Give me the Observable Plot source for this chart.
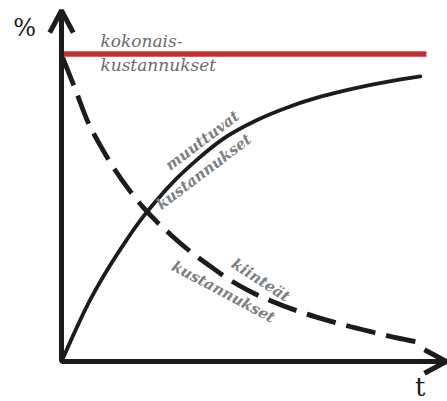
<!DOCTYPE html>
<html>
<head>
<meta charset="utf-8">
<script src="https://cdn.jsdelivr.net/npm/d3@7"></script>
<script src="https://cdn.jsdelivr.net/npm/@observablehq/plot@0.6"></script>
<style>
  html, body { margin: 0; padding: 0; background: #ffffff; }
  #chart svg { display: block; }
</style>
</head>
<body>
<div id="chart"></div>
<script>
// Axis extents (time t and percentage)
const xDomain = [0, 100];
const yDomain = [0, 100];

// Total costs (kokonaiskustannukset): constant level
const totalT = [0.5, 94.8];
const totalV = [87.6, 87.6];

// Variable costs (muuttuvat kustannukset): rising curve
const varT = [0, 3.6, 7.0, 11.4, 15.8, 20.0, 24.4, 29.6, 35.3, 41.8, 50.4, 59.2, 67.8, 76.4, 85.2, 93.2];
const varV = [0, 8.8, 16.6, 25.2, 32.8, 39.5, 45.5, 51.8, 57.6, 63.3, 68.6, 72.6, 75.6, 77.9, 79.8, 81.2];

// Fixed costs (kiinteät kustannukset): falling dashed curve
const fixT = [0.3, 3.6, 6.8, 10.1, 14.0, 17.9, 21.0, 24.4, 28.3, 33.5, 38.7, 43.9, 49.1, 54.8, 61.8, 67.3, 73.8, 80.3, 86.8, 93.2];
const fixV = [86.6, 77.5, 68.4, 61.5, 54.4, 48.4, 44.2, 40.2, 36.2, 31.3, 27.1, 23.1, 19.9, 17.1, 14.2, 12.3, 10.3, 8.5, 6.8, 5.4];

// Text labels
const totalLabels = ["kokonais-", "kustannukset"];
const varLabels = ["muuttuvat", "kustannukset"];
const fixLabels = ["kiinteät", "kustannukset"];
const axisLabels = ["%", "t"];

const total = totalT.map((t, i) => ({t, v: totalV[i]}));
const variable = varT.map((t, i) => ({t, v: varV[i]}));
const fixed = fixT.map((t, i) => ({t, v: fixV[i]}));

const axes = [
  {x1: xDomain[0], y1: yDomain[0], x2: xDomain[0], y2: yDomain[1]},
  {x1: xDomain[0], y1: yDomain[0], x2: xDomain[1], y2: yDomain[0]}
];

const serif = "DejaVu Serif, serif";
const labelFont = {fontFamily: serif, fontStyle: "italic", fontWeight: "bold", fontSize: 15, fill: "#7b8083"};
const totalFont = {fontFamily: serif, fontStyle: "italic", fontSize: 17, fill: "#6b6b6b", textAnchor: "start", lineAnchor: "bottom"};

const chart = Plot.plot({
  width: 447,
  height: 401,
  marginLeft: 61,
  marginRight: 1,
  marginTop: 10,
  marginBottom: 40,
  x: {domain: xDomain, axis: null},
  y: {domain: yDomain, axis: null},
  style: {background: "#ffffff", overflow: "visible"},
  marks: [
    Plot.line(total, {x: "t", y: "v", stroke: "#c62d35", strokeWidth: 5.5, strokeLinecap: "butt"}),
    Plot.line(variable, {x: "t", y: "v", curve: "monotone-x", stroke: "#1c1c1c", strokeWidth: 3.8, strokeLinecap: "round"}),
    Plot.line(fixed, {x: "t", y: "v", curve: "monotone-x", stroke: "#1c1c1c", strokeWidth: 4.8, strokeDasharray: "30,11", strokeLinecap: "butt"}),
    Plot.text([totalLabels[0]], {x: 10.1, y: 89.5, text: d => d, ...totalFont}),
    Plot.text([totalLabels[1]], {x: 10.1, y: 82.9, text: d => d, ...totalFont}),
    Plot.text([varLabels[0]], {x: 36.6, y: 62.9, text: d => d, rotate: -37, ...labelFont}),
    Plot.text([varLabels[1]], {x: 37.0, y: 54.0, text: d => d, rotate: -37, ...labelFont}),
    Plot.text([fixLabels[0]], {x: 51.7, y: 23.1, text: d => d, rotate: 33, ...labelFont}),
    Plot.text([fixLabels[1]], {x: 42.0, y: 19.8, text: d => d, rotate: 28, ...labelFont}),
    Plot.arrow(axes, {x1: "x1", y1: "y1", x2: "x2", y2: "y2", stroke: "#1c1c1c", strokeWidth: 5,
      headAngle: 56, headLength: 7.5, strokeLinejoin: "miter", strokeLinecap: "butt"}),
    Plot.text([axisLabels[0]], {x: -9.6, y: 94.9, text: d => d,
      fontFamily: serif, fontSize: 24, fill: "#1c1c1c"}),
    Plot.text([axisLabels[1]], {x: 93.2, y: -7.4, text: d => d,
      fontFamily: serif, fontSize: 26, fill: "#1c1c1c"})
  ]
});
document.getElementById("chart").appendChild(chart);
</script>
</body>
</html>
